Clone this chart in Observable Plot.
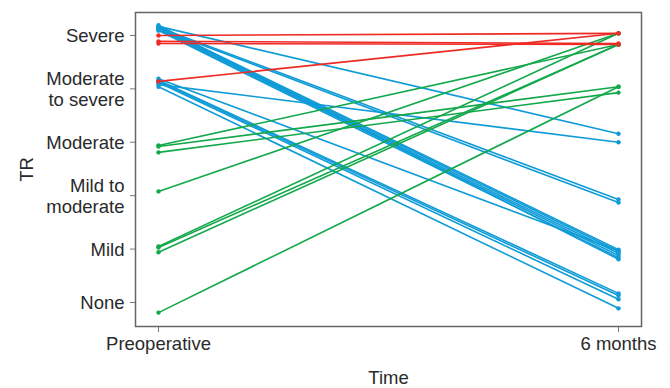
<!DOCTYPE html>
<html><head><meta charset="utf-8">
<script src="https://cdn.jsdelivr.net/npm/d3@7"></script>
<script src="https://cdn.jsdelivr.net/npm/@observablehq/plot@0.6"></script>
<style>
body{margin:0;background:#fff;font-family:"Liberation Sans",Arial,sans-serif}
</style>
</head><body><div id="chart"></div>
<script>
const timeLabels = ["Preoperative", "6 months"];
const gradeLabels = ["None", "Mild", "Mild to\nmoderate", "Moderate", "Moderate\nto severe", "Severe"];

// TR grade (0 = None ... 5 = Severe), jittered as in the figure
const preop = [
  // improved (blue)
  5.17, 5.15, 5.13, 5.17, 5.15, 5.13, 5.11, 5.09, 5.19, 4.08, 4.19, 4.16, 4.14, 4.12, 4.04,
  // worsened (green)
  2.94, 2.92, 2.81, 2.08, 1.05, 1.03, 0.94, -0.19,
  // unchanged / severe (red)
  5.0, 4.89, 4.85, 4.14
];
const sixMonths = [
  3.16, 1.93, 1.87, 0.99, 0.96, 0.92, 0.88, 0.84, 0.81, 3.0, 0.97, 0.17, 0.13, 0.06, -0.11,
  4.83, 4.04, 3.93, 5.04, 5.04, 4.83, 4.83, 4.04,
  5.04, 4.85, 4.83, 5.04
];
const change = [
  "better","better","better","better","better","better","better","better","better","better","better","better","better","better","better",
  "worse","worse","worse","worse","worse","worse","worse","worse",
  "same","same","same","same"
];
const changeDomain = ["better", "worse", "same"];
const changeColors = ["#0f9bd7", "#13a84b", "#ee2a24"];

const rows = preop.flatMap((v, i) => [
  {patient: i, time: 0, grade: v, change: change[i]},
  {patient: i, time: 1, grade: sixMonths[i], change: change[i]}
]);

const chart = Plot.plot({
  width: 670,
  height: 388,
  marginLeft: 135,
  marginRight: 29,
  marginTop: 12,
  marginBottom: 62,
  style: {fontFamily: '"Liberation Sans", Arial, sans-serif', fontSize: "18.5px", color: "#2a2a2a", background: "#fff"},
  x: {domain: [-0.05, 1.05]},
  y: {domain: [-0.45, 5.43]},
  color: {domain: changeDomain, range: changeColors},
  marks: [
    Plot.axisX({ticks: [0, 1], tickFormat: i => timeLabels[i], tickSize: 6, tickPadding: 4, label: "Time", labelAnchor: "center", labelArrow: "none", labelOffset: 57, stroke: "#777"}),
    Plot.axisY({ticks: [0, 1, 2, 3, 4, 5], tickFormat: i => gradeLabels[i], tickSize: 5, tickPadding: 6, lineHeight: 1.12, label: "TR", labelAnchor: "center", labelArrow: "none", labelOffset: 116, stroke: "#777"}),
    Plot.line(rows, {x: "time", y: "grade", z: "patient", stroke: "change", strokeWidth: 1.6}),
    Plot.dot(rows, {x: "time", y: "grade", fill: "change", r: 2.2}),
    Plot.frame({stroke: "#666", strokeWidth: 1.5})
  ]
});
document.getElementById("chart").append(chart);
</script>
</body></html>
